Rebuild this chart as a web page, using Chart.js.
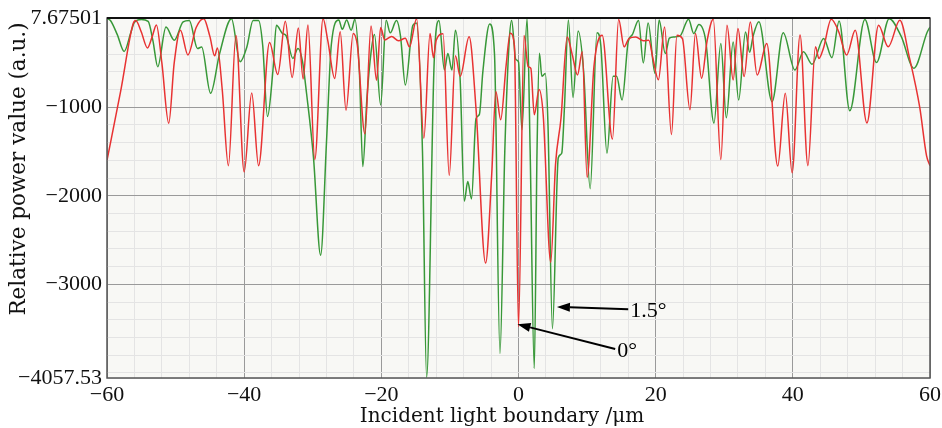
<!DOCTYPE html>
<html>
<head>
<meta charset="utf-8">
<script src="https://cdn.jsdelivr.net/npm/chart.js@4"></script>
<style>
  html, body { margin: 0; padding: 0; background: #fff; }
  #wrap { width: 942px; height: 428px; }
</style>
</head>
<body>
<div id="wrap"><canvas id="grafico"></canvas></div>
<script>
// dados
const redX = [-60, -58, -56.2, -55.8, -55, -54.1, -53.4, -52.8, -52, -51, -50.2, -49.3, -48.2, -47, -45.9, -45, -44.3, -43.9, -43.2, -42.3, -41.2, -40, -38.9, -37.9, -36.3, -35.1, -34, -33, -32.1, -31.4, -30.7, -29.7, -28.5, -27.8, -26.8, -26, -25.15, -24.1, -23.5, -22.4, -21.5, -20.7, -20.1, -19.5, -18.5, -17.5, -16.5, -15.9, -14.85, -13.8, -12.9, -12.4, -12, -11, -10.1, -9.2, -8.5, -7.2, -6.2, -4.8, -3.9, -3.3, -2.6, -1.8, -1.2, -0.6, 0, 0.8, 1.4, 1.8, 2.3, 3, 3.6, 4.7, 5.4, 6.2, 7.1, 7.85, 8.6, 9.3, 10, 11, 12.2, 13.7, 14.6, 15.4, 16.1, 17.1, 18.2, 19, 19.6, 20.4, 21.3, 22.3, 23.1, 23.9, 25, 25.8, 26.7, 27.5, 28.4, 29.5, 30.4, 31.3, 32, 32.9, 33.8, 34.8, 36.2, 37.8, 38.9, 39.9, 41.05, 42.2, 43.3, 43.8, 44.45, 45.6, 46.7, 47.85, 49.1, 50.8, 52.5, 53.9, 55.6, 57, 58.5, 59.5, 60];
const redY = [-1600, -815, -60, -20, -150, -330, -200, -70, -500, -1180, -500, -130, -410, -100, 0, -200, -420, -330, -800, -1660, -190, -1730, -840, -1660, -270, -630, -30, -665, -105, -680, -70, -1590, 0, -250, -675, -147, -1033, -166, -300, -1300, -83, -694, -100, -240, -200, -250, -220, -318, 0, -1350, -168, -440, -243, -170, -1770, -420, -650, -205, -1010, -2760, -1750, -823, -1140, -524, -164, -300, -3480, -190, -540, -561, -1085, -800, -1085, -2750, -1645, -1122, -206, -411, -636, -374, -1790, -542, -187, -1360, -7, -318, -224, -206, -250, -243, -450, -690, -94, -1309, -187, -224, -1028, -168, -673, -250, -7, -1590, -75, -692, -112, -654, -37, -636, -280, -1664, -841, -1740, -185, -1660, -318, -449, -337, -7, -150, -411, -131, -1178, -75, -318, -19, -440, -1000, -1550, -1660];

const greenX = [-60, -59.5, -58.5, -57.5, -56.5, -56, -55, -54, -53.3, -52.6, -51.4, -50.2, -48.9, -48, -46.8, -46.2, -44.9, -43.6, -41.85, -40.6, -39.6, -38.7, -37.9, -37.3, -36.6, -35.8, -35.3, -34.4, -33.9, -32.9, -32.15, -31.5, -30.9, -29.9, -28.85, -28, -27.3, -26.2, -25.7, -25.05, -24.4, -23.85, -23.2, -22.7, -22.1, -21.5, -21, -20.1, -19.3, -18.7, -17.8, -17.2, -16.5, -15.4, -14.9, -14, -13.4, -12.3, -11.6, -10.8, -10.3, -9.7, -9.2, -8.5, -7.9, -7.4, -6.85, -6.2, -5.7, -5.2, -4.2, -3.5, -2.7, -2, -1.35, -1, -0.4, 0, 0.5, 1.25, 1.7, 2.3, 2.7, 3.05, 3.4, 3.9, 4.3, 4.95, 5.8, 6.3, 6.7, 7.27, 7.95, 8.7, 9.5, 10.45, 11.45, 12, 12.9, 13.8, 14.3, 15.1, 16, 16.6, 17.5, 18.2, 18.9, 19.9, 20.5, 21.4, 22, 22.6, 23.5, 24.8, 25.55, 26.3, 27.3, 28.5, 29.5, 30.3, 31.3, 32.1, 33.1, 33.7, 34.2, 35.05, 36.97, 38.6, 40.3, 41.55, 42.8, 44.5, 45.7, 46.75, 48.3, 50.5, 52.2, 54.05, 55.8, 57.65, 59.6, 60];
const greenY = [0, -20, -180, -370, -150, -40, -10, -30, -250, -542, -94, -243, -37, -20, -337, -320, -842, -400, 0, -486, -317, -20, -20, -300, -1105, -580, -75, -168, -190, -449, -337, -480, -845, -1560, -2670, -1400, -300, -15, -120, -15, -130, -10, -600, -1670, -900, -380, -180, -975, -19, -160, -20, -200, -750, -75, -50, -1500, -4050, -500, -20, -580, -393, -580, -130, -700, -2060, -1840, -2035, -1130, -1080, -600, -60, -400, -3780, -1500, -250, -20, -460, -490, -1255, 0, -1500, -3950, -1500, -390, -650, -620, -1200, -3500, -1570, -1520, -1000, -15, -890, -140, -600, -1920, -160, -300, -1520, -650, -650, -918, -260, -180, -20, -500, -50, -618, -15, -393, -220, -206, -200, -7, -168, -67, -250, -1180, -279, -1120, -262, -918, -150, -380, -200, -35, -937, -158, -580, -374, -515, -223, -440, -25, -1040, -10, -495, 0, -200, -560, -150, -94];

const yMin = -4057.53;
const yMax = 7.67501;
const yTicksRotulo = [7.67501, -1000, -2000, -3000, -4057.53];
const xTicksRotulo = [-60, -40, -20, 0, 20, 40, 60];
const tituloX = 'Incident light boundary /\u03bcm';
const tituloY = 'Relative power value (a.u.)';

// anotações: ponta da seta, cauda, texto (coordenadas dos dados)
const anotacoes = [
  { texto: '1.5°', ponta: [5.6, -3255], cauda: [16.0, -3280] },
  { texto: '0°', ponta: [-0.15, -3450], cauda: [14.1, -3730] }
];

const fonteTicks = "'Liberation Serif', 'DejaVu Serif', serif";
const fonteTitulo = "'DejaVu Serif', 'Liberation Serif', serif";
const menos = v => String(v).replace('-', '\u2212');

const pontos = (xs, ys) => xs.map((x, i) => ({ x: x, y: ys[i] }));

const fundo = {
  id: 'fundo',
  beforeDraw(chart) {
    const { ctx, chartArea: a } = chart;
    ctx.save();
    ctx.fillStyle = '#f8f8f5';
    ctx.fillRect(a.left, a.top, a.right - a.left, a.bottom - a.top);
    ctx.restore();
  },
  afterDatasetsDraw(chart) {
    const { ctx, chartArea: a } = chart;
    const sx = chart.scales.x, sy = chart.scales.y;
    ctx.save();
    // moldura
    ctx.strokeStyle = '#555';
    ctx.lineWidth = 1.5;
    ctx.strokeRect(a.left, a.top, a.right - a.left, a.bottom - a.top);
    ctx.strokeStyle = '#111';
    ctx.lineWidth = 2;
    ctx.beginPath();
    ctx.moveTo(a.left, a.top);
    ctx.lineTo(a.right, a.top);
    ctx.stroke();

    // setas
    anotacoes.forEach(an => {
      const px = sx.getPixelForValue(an.ponta[0]);
      const py = sy.getPixelForValue(an.ponta[1]);
      const cx = sx.getPixelForValue(an.cauda[0]);
      const cy = sy.getPixelForValue(an.cauda[1]);
      const ang = Math.atan2(py - cy, px - cx);
      const L = 13, W = 4.5;
      const bx = px - L * Math.cos(ang), by = py - L * Math.sin(ang);
      ctx.strokeStyle = '#000';
      ctx.fillStyle = '#000';
      ctx.lineWidth = 2;
      ctx.beginPath();
      ctx.moveTo(cx, cy);
      ctx.lineTo(bx, by);
      ctx.stroke();
      ctx.beginPath();
      ctx.moveTo(px, py);
      ctx.lineTo(bx + W * Math.sin(ang), by - W * Math.cos(ang));
      ctx.lineTo(bx - W * Math.sin(ang), by + W * Math.cos(ang));
      ctx.closePath();
      ctx.fill();
      ctx.font = '22px ' + fonteTicks;
      ctx.textAlign = 'left';
      ctx.textBaseline = 'middle';
      ctx.fillText(an.texto, cx + 2, cy + 2);
    });

    // títulos dos eixos
    ctx.fillStyle = '#111';
    ctx.textAlign = 'center';
    ctx.textBaseline = 'middle';
    ctx.font = '20px ' + fonteTitulo;
    ctx.fillText(tituloX, 502, 417);
    ctx.translate(19, 169);
    ctx.rotate(-Math.PI / 2);
    ctx.font = '21.5px ' + fonteTitulo;
    ctx.fillText(tituloY, 0, 0);
    ctx.restore();
  }
};

const grafico = new Chart(document.getElementById('grafico'), {
  type: 'line',
  data: {
    datasets: [
      {
        label: '0°',
        data: pontos(redX, redY),
        borderColor: 'rgb(232, 50, 50)',
        borderWidth: 1.5,
        pointRadius: 0,
        cubicInterpolationMode: 'monotone',
        order: 0
      },
      {
        label: '1.5°',
        data: pontos(greenX, greenY),
        borderColor: 'rgb(56, 152, 56)',
        borderWidth: 1.5,
        pointRadius: 0,
        cubicInterpolationMode: 'monotone',
        order: 1
      }
    ]
  },
  options: {
    responsive: true,
    maintainAspectRatio: false,
    animation: false,
    layout: { padding: { top: 18, right: 12, left: 0, bottom: 0 } },
    plugins: { legend: { display: false }, tooltip: { enabled: false } },
    scales: {
      x: {
        type: 'linear',
        min: -60,
        max: 60,
        afterFit: s => { s.height = 50; s.paddingLeft = 0; s.paddingRight = 0; },
        ticks: {
          stepSize: 4,
          autoSkip: false,
          maxRotation: 0,
          padding: 4,
          color: '#111',
          font: { family: fonteTicks, size: 22 },
          callback: v => xTicksRotulo.includes(v) ? menos(v) : ''
        },
        grid: {
          drawTicks: false,
          color: c => (c.tick && c.tick.value % 20 === 0) ? '#9a9a9a' : '#e4e4e4',
          lineWidth: 1
        },
        border: { display: false }
      },
      y: {
        type: 'linear',
        min: yMin,
        max: yMax,
        afterFit: s => { s.width = 107; s.paddingTop = 0; s.paddingBottom = 0; },
        afterBuildTicks: s => {
          const t = [{ value: yMax }];
          for (let v = 0; v >= -4000; v -= 200) t.push({ value: v });
          t.push({ value: yMin });
          s.ticks = t;
        },
        ticks: {
          autoSkip: false,
          padding: 5,
          color: '#111',
          font: { family: fonteTicks, size: 22 },
          callback: v => yTicksRotulo.includes(v) ? menos(v) : ''
        },
        grid: {
          drawTicks: false,
          color: c => (c.tick && [-1000, -2000, -3000].includes(c.tick.value)) ? '#9a9a9a' : '#e4e4e4',
          lineWidth: 1
        },
        border: { display: false }
      }
    }
  },
  plugins: [fundo]
});
</script>
</body>
</html>
